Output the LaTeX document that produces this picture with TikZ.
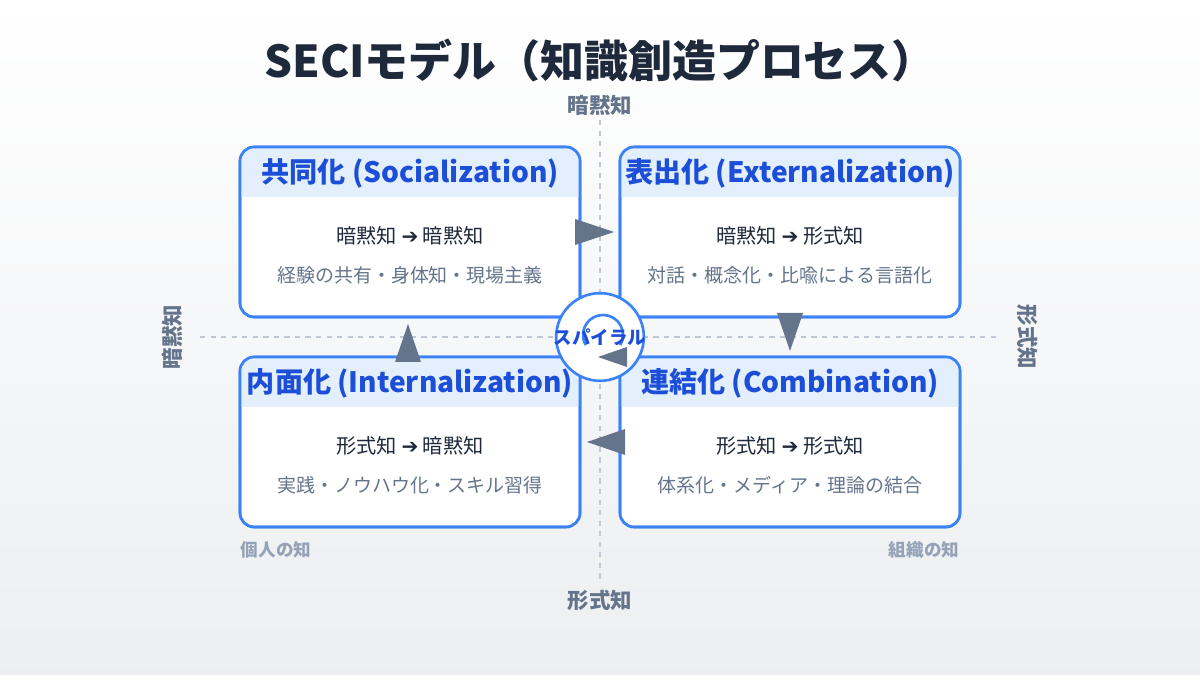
\documentclass[tikz,border=0pt]{standalone}
\usepackage{fontspec}
\setmainfont{Noto Sans CJK JP}
\newfontfamily\symfont{DejaVu Sans}
\usetikzlibrary{positioning}
\definecolor{inkdark}{HTML}{1E293B}
\definecolor{inkblue}{HTML}{1D4ED8}
\definecolor{edgeblue}{HTML}{3B82F6}
\definecolor{headfill}{HTML}{E3EFFD}
\definecolor{slate}{HTML}{64748B}
\definecolor{softgray}{HTML}{94A3B8}
\newcommand{\arr}{{\symfont\char"2794}}
\tikzset{
  quad/.style={draw=edgeblue, line width=1.5pt, fill=white, rounded corners=8pt},
  headtext/.style={font=\fontsize{16}{18}\selectfont\bfseries, text=inkblue},
  mainline/.style={font=\fontsize{11.5}{13}\selectfont, text=inkdark},
  subline/.style={font=\fontsize{10.8}{12}\selectfont, text=slate},
  axislabel/.style={font=\fontsize{12.2}{14}\selectfont\bfseries, text=slate},
  cornerlabel/.style={font=\fontsize{10}{12}\selectfont\bfseries, text=softgray},
  flow/.style={fill=slate}
}
\newcommand{\quadrant}[5]{%
  % #1 name, #2 left x, #3 top y, #4 title, #5 lines
  \draw[quad] (#2,#3) rectangle ++(340,170);
  \begin{scope}
    \clip[rounded corners=8pt] (#2,#3) rectangle ++(340,170);
    \fill[headfill] (#2,#3) rectangle ++(340,50);
  \end{scope}
  \draw[quad, fill=none] (#2,#3) rectangle ++(340,170);
  \node[headtext] (#1-head) at (#2+170,#3+26) {#4};
  #5
}
\begin{document}
\begin{tikzpicture}[x=0.02cm, y=-0.02cm]
  \shade[top color=white, bottom color=slate!12] (0,0) rectangle (1200,675);
  \useasboundingbox (0,0) rectangle (1200,675);
  \node[font=\fontsize{25}{28}\selectfont\bfseries, text=inkdark] (title) at (600,60) {SECIモデル（知識創造プロセス）};

  % axes
  \coordinate (vtop) at (600,120);
  \coordinate (vbot) at (600,580);
  \coordinate (hleft) at (200,337);
  \coordinate (hright) at (1000,337);
  \draw[softgray!60, dashed, line width=0.8pt] (vtop) -- (vbot);
  \draw[softgray!60, dashed, line width=0.8pt] (hleft) -- (hright);
  \node[axislabel] (ax-top) at (600,105) {暗黙知};
  \node[axislabel] (ax-bot) at (600,600) {形式知};
  \node[axislabel, rotate=90] (ax-left) at (172,337) {暗黙知};
  \node[axislabel, rotate=-90] (ax-right) at (1028,337) {形式知};
  \node[cornerlabel] (c-ind) at (276,550) {個人の知};
  \node[cornerlabel] (c-org) at (924,550) {組織の知};

  \quadrant{soc}{240}{147}{共同化 (Socialization)}{%
    \node[mainline] (soc-a) at (410,236) {暗黙知 \arr\ 暗黙知};
    \node[subline] (soc-b) at (410,275) {経験の共有・身体知・現場主義};}
  \quadrant{ext}{620}{147}{表出化 (Externalization)}{%
    \node[mainline] (ext-a) at (790,236) {暗黙知 \arr\ 形式知};
    \node[subline] (ext-b) at (790,275) {対話・概念化・比喩による言語化};}
  \quadrant{int}{240}{357}{内面化 (Internalization)}{%
    \node[mainline] (int-a) at (410,446) {形式知 \arr\ 暗黙知};
    \node[subline] (int-b) at (410,485) {実践・ノウハウ化・スキル習得};}
  \quadrant{com}{620}{357}{連結化 (Combination)}{%
    \node[mainline] (com-a) at (790,446) {形式知 \arr\ 形式知};
    \node[subline] (com-b) at (790,485) {体系化・メディア・理論の結合};}

  % flow arrows
  \fill[flow] (575,219) -- (614,232) -- (575,245) -- cycle;
  \fill[flow] (777,313) -- (803,313) -- (790,351) -- cycle;
  \fill[flow] (625,429) -- (625,455) -- (587,442) -- cycle;
  \fill[flow] (395,362) -- (421,362) -- (408,324) -- cycle;

  % center
  \node[circle, draw=edgeblue, line width=1.5pt, fill=white, minimum size=88pt*0.567] (spiral) at (600,337) {};
  \draw[edgeblue, line width=1.5pt] (603,335) ++(150:20) arc[start angle=150, end angle=390, radius=20];
  \fill[flow] (627,347) -- (627,367) -- (598,357) -- cycle;
  \node[font=\fontsize{10.5}{12}\selectfont\bfseries, text=inkblue] (spiral-text) at (600,337) {スパイラル};
\end{tikzpicture}
\end{document}
